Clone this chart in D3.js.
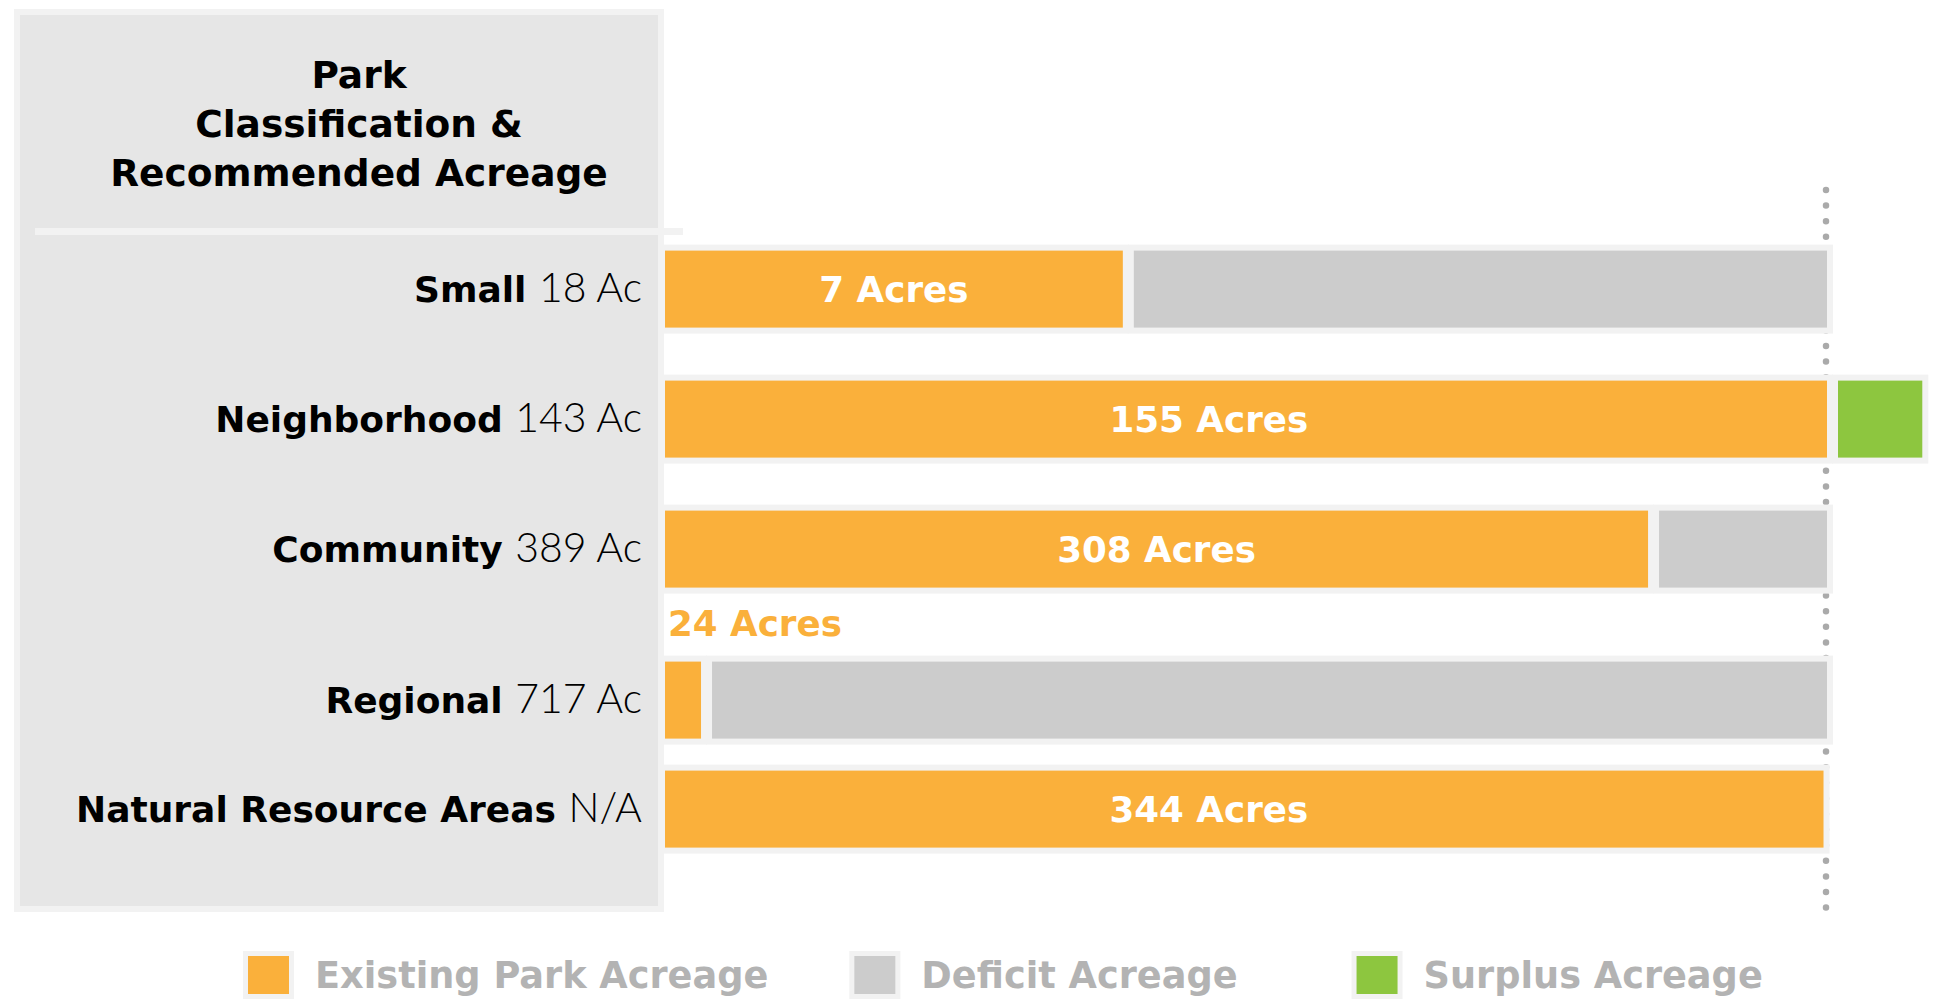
<!DOCTYPE html>
<html>
<head>
<meta charset="utf-8">
<script src="https://cdn.jsdelivr.net/npm/d3@7"></script>
<style>
  body { margin: 0; background: #fff; }
  svg { display: block; font-family: "DejaVu Sans", sans-serif; }
</style>
</head>
<body>
<div id="chart"></div>
<script>
// Park classes and what the plan recommends for each
const categories = ["Small", "Neighborhood", "Community", "Regional", "Natural Resource Areas"];
const recommended = ["18 Ac", "143 Ac", "389 Ac", "717 Ac", "N/A"];

// Existing acreage (label) and bar lengths as share of recommended (%)
const existingAcres = [7, 155, 308, 24, 344];
const existingPct = [39.4, 100, 84.6, 3.1, 99.7];
const deficitPct = [60.6, 0, 15.4, 96.9, 0];
const surplusPct = [0, 8.2, 0, 0, 0];

const titleLines = ["Park", "Classification &", "Recommended Acreage"];
const legendItems = ["Existing Park Acreage", "Deficit Acreage", "Surplus Acreage"];

const colors = {
  existing: "#fab03b",
  deficit: "#cccccc",
  surplus: "#8dc63f",
  border: "#f2f2f2",
  panel: "#e6e6e6",
  legendText: "#b3b3b3"
};

const width = 1936, height = 1000;
const pad = 6;        // light frame around every bar piece
const gap = 11;       // space between adjoining pieces
const labelRoom = 21; // extra room above a bar whose label sits outside

const svg = d3.select("#chart").append("svg")
  .attr("width", width)
  .attr("height", height);

// scales
const x = d3.scaleLinear().domain([0, 100]).range([665, 1827]);
const y = d3.scaleBand()
  .domain(categories)
  .range([250.6, 847.6])
  .paddingInner(0.4077)
  .paddingOuter(0);

// does the acreage label fit inside the orange piece?
const labelInside = existingPct.map(p => x(p) - x(0) > 120);
const rowTop = (d, i) => y(d) + (labelInside[i] ? 0 : labelRoom);

// left panel
svg.append("rect")
  .attr("x", 14).attr("y", 9)
  .attr("width", 650).attr("height", 903)
  .attr("fill", colors.border);
svg.append("rect")
  .attr("x", 20).attr("y", 15)
  .attr("width", 638).attr("height", 891)
  .attr("fill", colors.panel);

// separator under the heading
svg.append("rect")
  .attr("x", 35).attr("y", 228)
  .attr("width", 648).attr("height", 7)
  .attr("fill", colors.border);

const title = svg.append("text")
  .attr("x", 359)
  .attr("y", 74)
  .attr("text-anchor", "middle")
  .attr("font-size", 37.5)
  .attr("font-weight", 700)
  .attr("fill", "#000");
title.selectAll("tspan")
  .data(titleLines)
  .join("tspan")
  .attr("x", 359)
  .attr("dy", (d, i) => i === 0 ? "0.36em" : 49)
  .text(d => d);

// dotted reference line at 100% of the recommendation
svg.append("line")
  .attr("x1", x(100) - 1).attr("x2", x(100) - 1)
  .attr("y1", 190).attr("y2", 910)
  .attr("stroke", "#aaaaaa")
  .attr("stroke-width", 6.5)
  .attr("stroke-linecap", "round")
  .attr("stroke-dasharray", "0 15.6");

// build bar pieces
const pieces = [];
categories.forEach((c, i) => {
  let start = 0;
  [["existing", existingPct[i]], ["deficit", deficitPct[i]], ["surplus", surplusPct[i]]].forEach(([key, v]) => {
    if (v > 0) {
      pieces.push({ top: rowTop(c, i), key, x0: x(start) + (start > 0 ? gap : 0), x1: x(start + v) });
      start += v;
    }
  });
});

const bars = svg.append("g").attr("class", "bars");

bars.selectAll("rect.frame")
  .data(pieces)
  .join("rect")
  .attr("class", "frame")
  .attr("x", d => d.x0 - pad)
  .attr("y", d => d.top - pad)
  .attr("width", d => d.x1 - d.x0 + 2 * pad)
  .attr("height", y.bandwidth() + 2 * pad)
  .attr("fill", colors.border);

bars.selectAll("rect.piece")
  .data(pieces)
  .join("rect")
  .attr("class", "piece")
  .attr("x", d => d.x0)
  .attr("y", d => d.top)
  .attr("width", d => d.x1 - d.x0)
  .attr("height", y.bandwidth())
  .attr("fill", d => colors[d.key]);

// row labels: bold class name + light recommendation
const rowLabels = svg.append("g")
  .selectAll("text")
  .data(categories)
  .join("text")
  .attr("x", 642)
  .attr("y", (d, i) => rowTop(d, i) + y.bandwidth() / 2)
  .attr("dy", "0.36em")
  .attr("text-anchor", "end")
  .attr("font-size", 36)
  .attr("fill", "#000");
rowLabels.append("tspan").attr("font-weight", 700).text(d => d + " ");
rowLabels.append("tspan")
  .attr("font-family", "Lato, sans-serif")
  .attr("font-size", 41)
  .attr("font-weight", 300)
  .text((d, i) => recommended[i]);

// acreage labels in the orange pieces (above the bar when it is too thin)
svg.append("g")
  .selectAll("text")
  .data(categories)
  .join("text")
  .attr("font-size", 35.7)
  .attr("font-weight", 700)
  .attr("dy", "0.36em")
  .text((d, i) => existingAcres[i] + " Acres")
  .each(function (d, i) {
    const t = d3.select(this);
    if (labelInside[i]) {
      t.attr("x", x(Math.min(existingPct[i] / 2, 46.8)))
        .attr("y", rowTop(d, i) + y.bandwidth() / 2)
        .attr("text-anchor", "middle")
        .attr("fill", "#fff");
    } else {
      t.attr("x", x(0) + 3)
        .attr("y", rowTop(d, i) - 38)
        .attr("fill", colors.existing);
    }
  });

// legend
const legend = svg.append("g").attr("transform", "translate(0, 975)");
const legendKeys = ["existing", "deficit", "surplus"];
let lx = 243;
legendItems.forEach((label, i) => {
  const g = legend.append("g").attr("transform", `translate(${lx}, 0)`);
  g.append("rect")
    .attr("x", 0).attr("y", -24)
    .attr("width", 51).attr("height", 48)
    .attr("fill", colors.border);
  g.append("rect")
    .attr("x", 5).attr("y", -19)
    .attr("width", 41).attr("height", 38)
    .attr("fill", colors[legendKeys[i]]);
  const t = g.append("text")
    .attr("x", 72)
    .attr("dy", "0.36em")
    .attr("font-size", 36.7)
    .attr("font-weight", 700)
    .attr("fill", colors.legendText)
    .text(label);
  lx += 72 + t.node().getComputedTextLength() + (i === 0 ? 81 : 114);
});
</script>
</body>
</html>
